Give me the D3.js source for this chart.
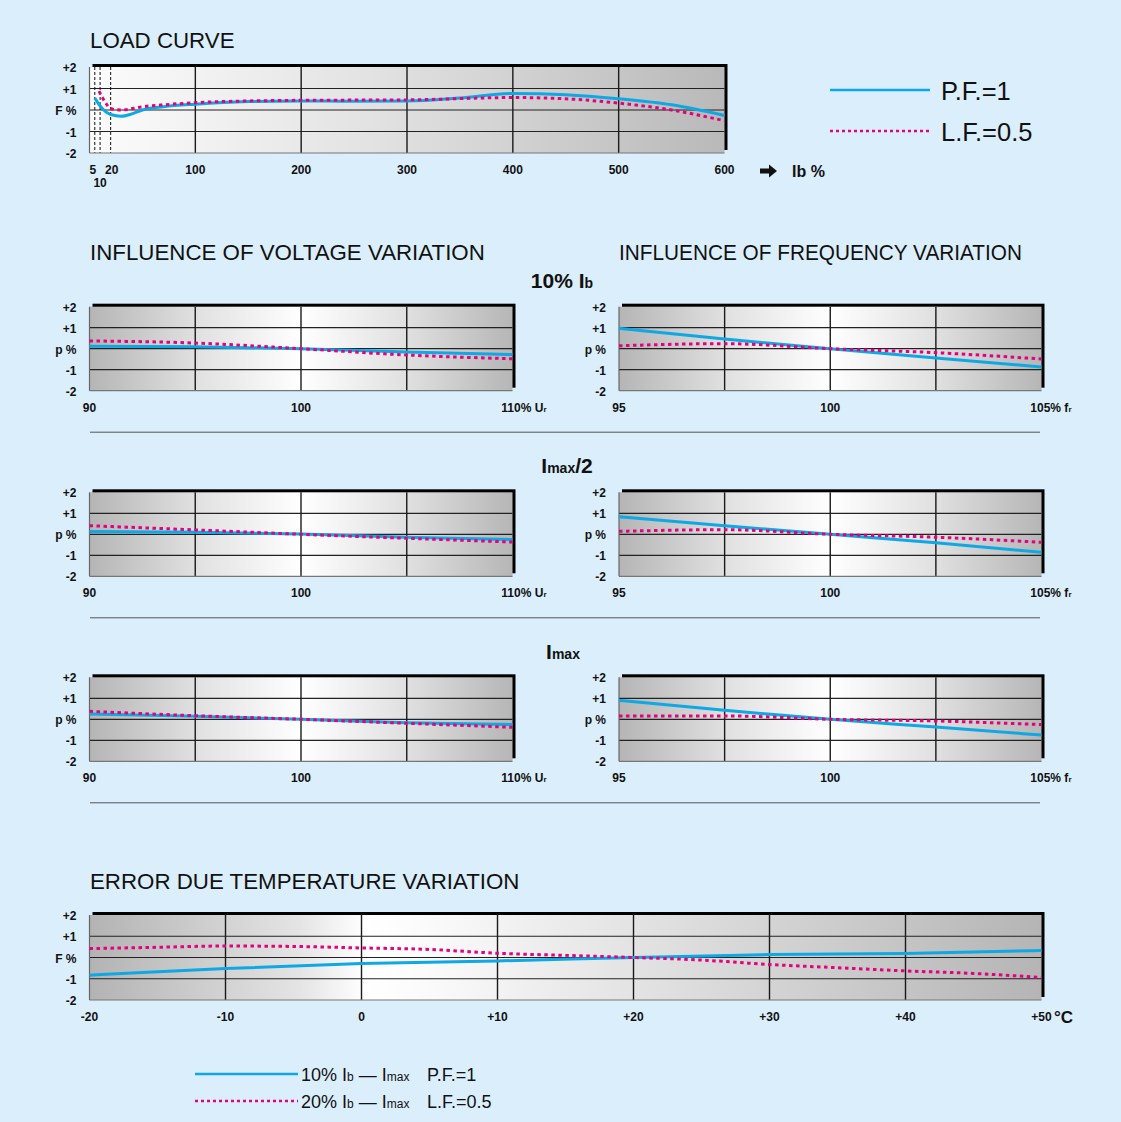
<!DOCTYPE html>
<html>
<head>
  <meta charset="utf-8">
  <script src="https://d3js.org/d3.v7.min.js"></script>
  <style>
    body { margin: 0; background: #dbeefc; }
    svg { display: block; }
    .tick-lbl { font-family: "Liberation Sans Narrow", "Arial Narrow", sans-serif; font-weight: bold; font-size: 12px; fill: #111; }
    .title { font-family: "Liberation Sans", Arial, sans-serif; font-size: 22.3px; fill: #111; }
    .sub-title { font-family: "Liberation Sans", Arial, sans-serif; font-weight: bold; font-size: 21px; fill: #111; }
    .legend { font-family: "Liberation Sans", Arial, sans-serif; fill: #111; }
  </style>
</head>
<body>
<script>
  "use strict";

  // ---- data ----
  // load curve, F% against Ib %
  var loadPFx   = [5, 10, 20, 30, 40, 50, 70, 100, 150, 200, 250, 300, 350, 400, 450, 500, 550, 600];
  var loadPF    = [0.56, 0.19, -0.21, -0.29, -0.18, 0.0, 0.15, 0.27, 0.39, 0.42, 0.41, 0.42, 0.56, 0.77, 0.71, 0.52, 0.24, -0.26];
  var loadLFx   = [9, 15, 20, 30, 50, 70, 100, 150, 200, 300, 400, 450, 500, 550, 600];
  var loadLF    = [0.88, 0.35, 0.06, 0.0, 0.15, 0.24, 0.34, 0.42, 0.45, 0.47, 0.58, 0.52, 0.32, 0.0, -0.5];

  // voltage variation (% Ur) and frequency variation (% fr)
  var voltX = [90, 95, 100, 105, 110];
  var freqX = [95, 97.5, 100, 102.5, 105];

  var volt10PF = [0.12, 0.09, 0.0, -0.16, -0.28];
  var volt10LF = [0.37, 0.27, 0.0, -0.30, -0.48];
  var freq10PF = [0.97, 0.46, 0.0, -0.44, -0.87];
  var freq10LF = [0.14, 0.24, 0.0, -0.19, -0.49];

  var voltHalfPF = [0.13, 0.10, 0.01, -0.14, -0.25];
  var voltHalfLF = [0.41, 0.21, 0.0, -0.19, -0.37];
  var freqHalfPF = [0.84, 0.41, 0.0, -0.40, -0.86];
  var freqHalfLF = [0.14, 0.22, 0.0, -0.14, -0.38];

  var voltMaxPF = [0.25, 0.14, 0.0, -0.16, -0.25];
  var voltMaxLF = [0.38, 0.17, 0.0, -0.19, -0.38];
  var freqMaxPF = [0.90, 0.43, 0.0, -0.37, -0.75];
  var freqMaxLF = [0.16, 0.16, 0.0, -0.08, -0.25];

  // temperature, F% against °C
  var tempPFx = [-20, -10, 0, 10, 20, 30, 40, 50];
  var tempPF  = [-0.83, -0.52, -0.28, -0.16, 0.0, 0.14, 0.19, 0.33];
  var tempLFx = [-20, -15, -10, -5, 0, 5, 10, 15, 20, 25, 30, 35, 40, 45, 50];
  var tempLF  = [0.42, 0.48, 0.54, 0.52, 0.45, 0.38, 0.20, 0.10, 0.0, -0.12, -0.33, -0.48, -0.63, -0.75, -0.94];

  var yTicks = [2, 1, 0, -1, -2];
  var yTickText = ["+2", "+1", null, "-1", "-2"];
  var loadTicks = [5, 20, 100, 200, 300, 400, 500, 600];
  var tempTicks = [-20, -10, 0, 10, 20, 30, 40, 50];
  var tempTickText = ["-20", "-10", "0", "+10", "+20", "+30", "+40", "+50"];

  var BLUE = "#0ea8e4", PINK = "#e5007d";

  var svg = d3.select("body").append("svg")
      .attr("width", 1121).attr("height", 1122);

  svg.append("rect").attr("width", 1121).attr("height", 1122).attr("fill", "#dbeefc");

  var defs = svg.append("defs");
  function gradient(id, stops) {
    var g = defs.append("linearGradient").attr("id", id)
      .attr("x1", "0%").attr("x2", "100%").attr("y1", "0%").attr("y2", "0%");
    stops.forEach(function (s) {
      g.append("stop").attr("offset", s[0]).attr("stop-color", s[1]);
    });
  }
  gradient("gLoad", [["0%", "#fcfcfc"], ["45%", "#e2e2e2"], ["100%", "#b9b9b9"]]);
  gradient("gMid", [["0%", "#b5b5b5"], ["25%", "#e0e0e0"], ["50%", "#ffffff"], ["75%", "#e0e0e0"], ["100%", "#b6b6b6"]]);
  gradient("gTemp", [["0%", "#b3b3b3"], ["22%", "#e4e4e4"], ["29%", "#ffffff"], ["36%", "#fafafa"], ["100%", "#b5b5b5"]]);

  // draws one panel with shadow, grid, ticks and the two curves
  function panel(cfg) {
    var g = svg.append("g");
    var x = d3.scaleLinear().domain(cfg.xDomain).range([cfg.x0, cfg.x1]);
    var y = d3.scaleLinear().domain([-2, 2]).range([cfg.y1, cfg.y0]);

    // black drop shadow on top and right
    g.append("rect")
      .attr("x", cfg.x0 + 3).attr("y", cfg.y0 - 3)
      .attr("width", cfg.x1 - cfg.x0).attr("height", cfg.y1 - cfg.y0)
      .attr("fill", "#000");
    g.append("rect")
      .attr("x", cfg.x0).attr("y", cfg.y0)
      .attr("width", cfg.x1 - cfg.x0).attr("height", cfg.y1 - cfg.y0)
      .attr("fill", "url(#" + cfg.grad + ")");

    // horizontal grid
    g.selectAll(".hg").data([1, 0, -1]).enter().append("line")
      .attr("x1", cfg.x0).attr("x2", cfg.x1)
      .attr("y1", function (d) { return y(d); }).attr("y2", function (d) { return y(d); })
      .attr("stroke", "#222").attr("stroke-width", 1.2);

    // vertical grid
    g.selectAll(".vg").data(cfg.vGrid).enter().append("line")
      .attr("x1", function (d) { return x(d); }).attr("x2", function (d) { return x(d); })
      .attr("y1", cfg.y0).attr("y2", cfg.y1)
      .attr("stroke", "#1a1a1a").attr("stroke-width", 1.4);

    if (cfg.dashGrid) {
      g.selectAll(".dg").data(cfg.dashGrid).enter().append("line")
        .attr("x1", function (d) { return x(d); }).attr("x2", function (d) { return x(d); })
        .attr("y1", cfg.y0).attr("y2", cfg.y1)
        .attr("stroke", "#111").attr("stroke-width", 1)
        .attr("stroke-dasharray", "3,2");
    }

    // left & bottom edges
    g.append("line").attr("x1", cfg.x0).attr("x2", cfg.x0).attr("y1", cfg.y0).attr("y2", cfg.y1)
      .attr("stroke", "#666").attr("stroke-width", 1.2);
    g.append("line").attr("x1", cfg.x0).attr("x2", cfg.x1).attr("y1", cfg.y1).attr("y2", cfg.y1)
      .attr("stroke", "#777").attr("stroke-width", 1.2);

    // curves
    var line = d3.line().curve(d3.curveMonotoneX)
      .x(function (d) { return x(d[0]); }).y(function (d) { return y(d[1]); });
    g.append("path").datum(d3.zip(cfg.pfX, cfg.pf))
      .attr("d", line).attr("fill", "none")
      .attr("stroke", BLUE).attr("stroke-width", 3);
    g.append("path").datum(d3.zip(cfg.lfX, cfg.lf))
      .attr("d", line).attr("fill", "none")
      .attr("stroke", PINK).attr("stroke-width", 3).attr("stroke-dasharray", "3.5,3.5");

    // y labels
    var labelX = cfg.x0 - 13;
    yTicks.forEach(function (v, i) {
      g.append("text").attr("class", "tick-lbl")
        .attr("x", labelX).attr("y", y(v) + 5)
        .attr("text-anchor", "end")
        .text(yTickText[i] === null ? cfg.yName : yTickText[i]);
    });

    // x labels (last one may carry a small subscript unit)
    cfg.xTicks.forEach(function (v, i) {
      var t = g.append("text").attr("class", "tick-lbl")
        .attr("x", x(v) + (cfg.xOffsets ? cfg.xOffsets[i] : 0)).attr("y", cfg.y1 + 21)
        .attr("text-anchor", cfg.xAnchors ? cfg.xAnchors[i] : "middle");
      t.append("tspan").text(cfg.xText[i]);
      if (cfg.xSub && cfg.xSub[i]) {
        t.append("tspan").style("font-size", "8px").text(cfg.xSub[i]);
      }
    });
    return { g: g, x: x, y: y };
  }

  // ---------------- LOAD CURVE ----------------
  svg.append("text").attr("class", "title").attr("x", 90).attr("y", 48).text("LOAD CURVE");
  var lc = panel({
    x0: 89.5, x1: 724.5, y0: 67, y1: 153, xDomain: [0, 600], grad: "gLoad",
    vGrid: [100, 200, 300, 400, 500], dashGrid: [5, 10, 20],
    pfX: loadPFx, pf: loadPF, lfX: loadLFx, lf: loadLF, yName: "F %",
    xTicks: loadTicks, xText: loadTicks.map(String),
    xOffsets: [-2, 1, 0, 0, 0, 0, 0, 0]
  });
  lc.g.append("text").attr("class", "tick-lbl").attr("x", lc.x(10)).attr("y", 187)
    .attr("text-anchor", "middle").text("10");
  // arrow + Ib %
  lc.g.append("path")
    .attr("d", "M760,168.5 h9 v-4 l8,6.5 l-8,6.5 v-4 h-9 z")
    .attr("fill", "#111");
  lc.g.append("text").attr("class", "tick-lbl").style("font-size", "16px")
    .attr("x", 792).attr("y", 177).text("Ib %");

  // legend top right
  var lg = svg.append("g").attr("class", "legend");
  lg.append("line").attr("x1", 830).attr("x2", 930).attr("y1", 90).attr("y2", 90)
    .attr("stroke", BLUE).attr("stroke-width", 2.5);
  lg.append("line").attr("x1", 830).attr("x2", 930).attr("y1", 131).attr("y2", 131)
    .attr("stroke", PINK).attr("stroke-width", 2.5).attr("stroke-dasharray", "3,3");
  lg.append("text").attr("x", 941).attr("y", 100).style("font-size", "25.5px").text("P.F.=1");
  lg.append("text").attr("x", 941).attr("y", 141).style("font-size", "25.5px").text("L.F.=0.5");

  // ---------------- VOLTAGE / FREQUENCY ----------------
  svg.append("text").attr("class", "title").attr("x", 90).attr("y", 260).text("INFLUENCE OF VOLTAGE VARIATION");
  svg.append("text").attr("class", "title").attr("x", 619).attr("y", 260)
    .attr("textLength", 403).attr("lengthAdjust", "spacingAndGlyphs")
    .text("INFLUENCE OF FREQUENCY VARIATION");

  var rows = [
    { top: 306.7, title: ["10% I", "b", ""], pfV: volt10PF, lfV: volt10LF, pfF: freq10PF, lfF: freq10LF, tx: 562, ty: 288 },
    { top: 492.3, title: ["I", "max", "/2"], pfV: voltHalfPF, lfV: voltHalfLF, pfF: freqHalfPF, lfF: freqHalfLF, tx: 567, ty: 473 },
    { top: 677.3, title: ["I", "max", ""], pfV: voltMaxPF, lfV: voltMaxLF, pfF: freqMaxPF, lfF: freqMaxLF, tx: 563, ty: 659 }
  ];

  rows.forEach(function (r) {
    var t = svg.append("text").attr("class", "sub-title").attr("x", r.tx).attr("y", r.ty)
      .attr("text-anchor", "middle");
    t.append("tspan").text(r.title[0]);
    t.append("tspan").style("font-size", "14px").text(r.title[1]);
    t.append("tspan").text(r.title[2]);

    panel({
      x0: 89.5, x1: 512.5, y0: r.top, y1: r.top + 84, xDomain: [90, 110], grad: "gMid",
      vGrid: [95, 100, 105],
      pfX: voltX, pf: r.pfV, lfX: voltX, lf: r.lfV, yName: "p %",
      xTicks: [90, 100, 110], xText: ["90", "100", "110% U"], xSub: [null, null, "r"],
      xAnchors: ["middle", "middle", "end"], xOffsets: [0, 0, 34]
    });
    panel({
      x0: 619, x1: 1041.5, y0: r.top, y1: r.top + 84, xDomain: [95, 105], grad: "gMid",
      vGrid: [97.5, 100, 102.5],
      pfX: freqX, pf: r.pfF, lfX: freqX, lf: r.lfF, yName: "p %",
      xTicks: [95, 100, 105], xText: ["95", "100", "105% f"], xSub: [null, null, "r"],
      xAnchors: ["middle", "middle", "end"], xOffsets: [0, 0, 30]
    });
    svg.append("line").attr("x1", 90).attr("x2", 1040)
      .attr("y1", r.top + 125.5).attr("y2", r.top + 125.5)
      .attr("stroke", "#555").attr("stroke-width", 1);
  });

  // ---------------- TEMPERATURE ----------------
  svg.append("text").attr("class", "title").attr("x", 90).attr("y", 889).text("ERROR DUE TEMPERATURE VARIATION");
  var tp = panel({
    x0: 89.5, x1: 1041.5, y0: 915, y1: 1000, xDomain: [-20, 50], grad: "gTemp",
    vGrid: [-10, 0, 10, 20, 30, 40],
    pfX: tempPFx, pf: tempPF, lfX: tempLFx, lf: tempLF, yName: "F %",
    xTicks: tempTicks, xText: tempTickText
  });
  tp.g.append("text").attr("class", "tick-lbl").style("font-size", "17px")
    .attr("x", 1054).attr("y", 1023).text("°C");

  // bottom legend
  var bl = svg.append("g").attr("class", "legend").style("font-size", "18px");
  bl.append("line").attr("x1", 195).attr("x2", 298).attr("y1", 1074).attr("y2", 1074)
    .attr("stroke", BLUE).attr("stroke-width", 2.5);
  bl.append("line").attr("x1", 195).attr("x2", 298).attr("y1", 1101).attr("y2", 1101)
    .attr("stroke", PINK).attr("stroke-width", 2.5).attr("stroke-dasharray", "3,3");
  [["10%", "P.F.=1", 1081], ["20%", "L.F.=0.5", 1108]].forEach(function (d) {
    var t = bl.append("text").attr("x", 301).attr("y", d[2]);
    t.append("tspan").text(d[0] + " I");
    t.append("tspan").style("font-size", "12px").text("b");
    t.append("tspan").text(" \u2014 I");
    t.append("tspan").style("font-size", "12px").text("max");
    bl.append("text").attr("x", 427).attr("y", d[2]).text(d[1]);
  });
</script>
</body>
</html>
